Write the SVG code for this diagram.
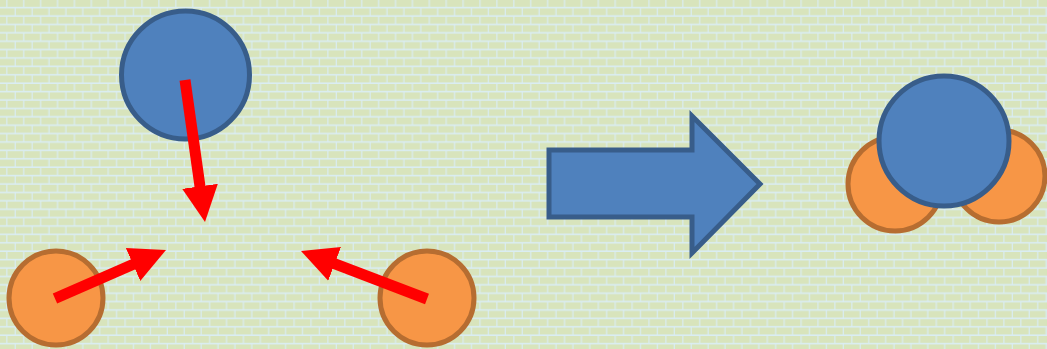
<svg xmlns="http://www.w3.org/2000/svg" width="1047" height="349" viewBox="0 0 1047 349">
  <style>
    .blue { fill: #4f81bd; stroke: #385d8a; stroke-width: 5; }
    .orange { fill: #f79646; stroke: #b66d31; stroke-width: 5; }
    .red { stroke: #ff0000; stroke-width: 11; fill: none; }
  </style>
  <defs>
    <pattern id="bricks" x="0" y="0" width="16.9" height="16.8" patternUnits="userSpaceOnUse">
      <rect x="0" y="0" width="16.9" height="16.8" fill="#daedf3"/>
      <rect x="7.4" y="0" width="15.7" height="6.8" fill="#d8e4bc"/>
      <rect x="-9.5" y="0" width="15.7" height="6.8" fill="#d8e4bc"/>
      <rect x="-1.1" y="8.4" width="15.7" height="6.8" fill="#d8e4bc"/>
      <rect x="15.8" y="8.4" width="15.7" height="6.8" fill="#d8e4bc"/>
    </pattern>
    <marker id="head" markerUnits="userSpaceOnUse" markerWidth="40" markerHeight="40" viewBox="0 -20 40 40" refX="1" refY="0" orient="auto">
      <path d="M0,-18 L36,0 L0,18 Z" fill="#ff0000"/>
    </marker>
  </defs>
  <rect x="0" y="0" width="1047" height="349" fill="url(#bricks)"/>

  <g id="node-top-blue">
    <circle class="blue" cx="185.5" cy="75" r="64"/>
  </g>
  <g id="node-left-orange">
    <circle class="orange" cx="56" cy="298" r="47"/>
  </g>
  <g id="node-right-orange">
    <circle class="orange" cx="427" cy="298" r="47"/>
  </g>
  <g id="node-block-arrow">
    <polygon class="blue" points="549,150 692,150 692,116 760,184 692,253 692,217 549,217" stroke-linejoin="miter"/>
  </g>
  <g id="node-result">
    <circle class="orange" cx="895" cy="184" r="47"/>
    <circle class="orange" cx="999" cy="176" r="46"/>
    <circle class="blue" cx="944" cy="141" r="65"/>
  </g>

  <g id="connectors">
    <line class="red" x1="185" y1="80" x2="200.12" y2="187.34" marker-end="url(#head)"/>
    <line class="red" x1="55" y1="298.5" x2="133.93" y2="264.01" marker-end="url(#head)"/>
    <line class="red" x1="427" y1="299" x2="333.71" y2="263.46" marker-end="url(#head)"/>
  </g>
</svg>
